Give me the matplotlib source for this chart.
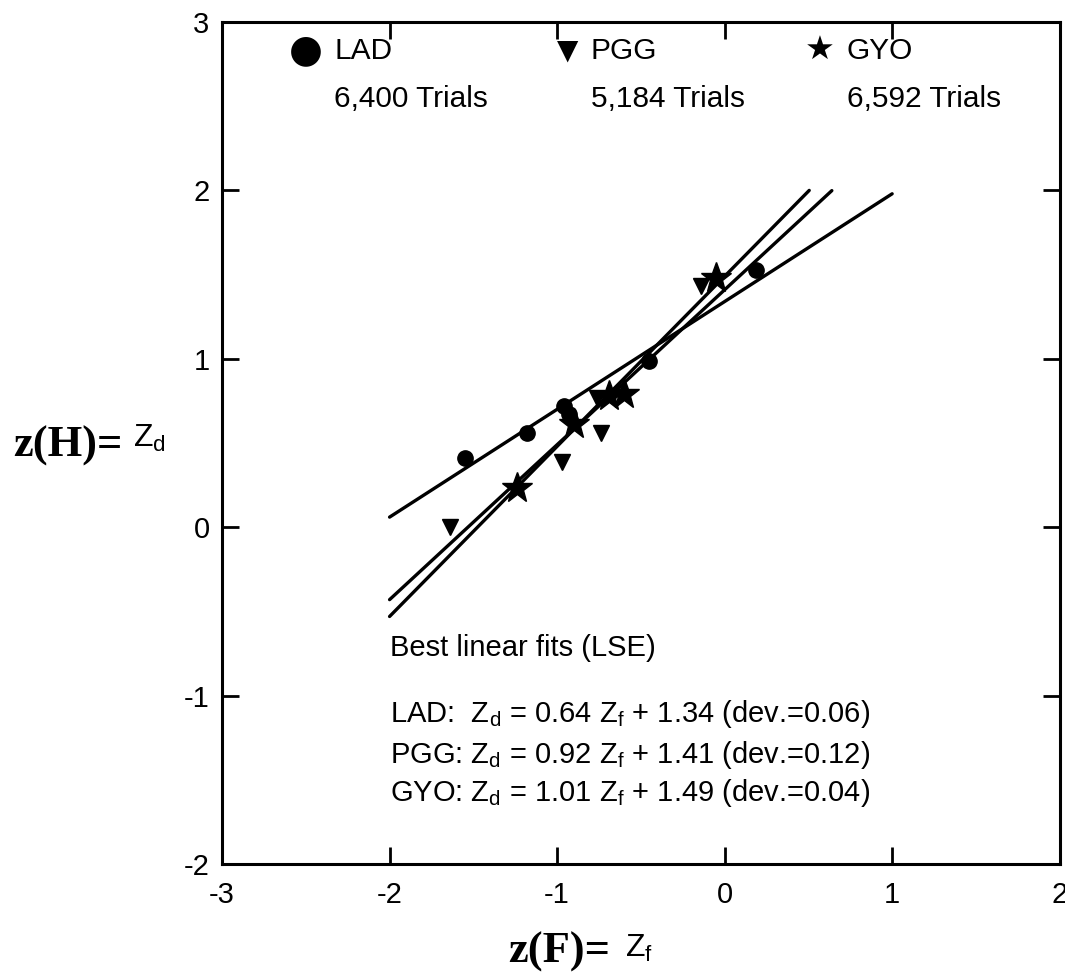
import numpy as np
import matplotlib
matplotlib.use("Agg")
import matplotlib.pyplot as plt

plt.rcParams['font.family'] = ['Liberation Sans', 'DejaVu Sans']
plt.rcParams['mathtext.fontset'] = 'custom'
plt.rcParams['mathtext.rm'] = 'Liberation Sans'
plt.rcParams['mathtext.it'] = 'Liberation Sans'
plt.rcParams['axes.unicode_minus'] = False

# data
lad_x = [-1.55, -1.18, -0.96, -0.93, -0.45, 0.19]
lad_y = [0.41, 0.56, 0.72, 0.67, 0.99, 1.53]
pgg_x = [-1.64, -0.97, -0.74, -0.76, -0.14]
pgg_y = [0.00, 0.39, 0.56, 0.77, 1.43]
gyo_x = [-1.24, -0.90, -0.69, -0.60, -0.05]
gyo_y = [0.23, 0.61, 0.78, 0.79, 1.48]

# best linear fits: slope, intercept, dev, x-range
names = ["LAD", "PGG", "GYO"]
slopes = [0.64, 0.92, 1.01]
intercepts = [1.34, 1.41, 1.49]
devs = [0.06, 0.12, 0.04]
fit_x0 = [-2.0, -2.0, -2.0]
fit_x1 = [1.0, 0.64, 0.505]
trials = ["6,400", "5,184", "6,592"]
symbols = ["\u25CF", "\u25BC", "\u2605"]

fig = plt.figure(figsize=(10.65, 9.74), dpi=100)
ax = fig.add_axes([0.2085, 0.1129, 0.7865, 0.8645])

for s, b, x0, x1 in zip(slopes, intercepts, fit_x0, fit_x1):
    xx = np.array([x0, x1])
    ax.plot(xx, s * xx + b, color='black', lw=2.4, solid_capstyle='round')

ax.plot(lad_x, lad_y, 'o', color='black', ms=11, ls='none')
ax.plot(pgg_x, pgg_y, 'v', color='black', ms=11, ls='none')
ax.plot(gyo_x, gyo_y, '*', color='black', ms=23, ls='none')

ax.set_xlim(-3, 2)
ax.set_ylim(-2, 3)
ax.set_xticks([-3, -2, -1, 0, 1, 2])
ax.set_yticks([-2, -1, 0, 1, 2, 3])
ax.tick_params(direction='in', length=12, width=2, labelsize=21,
               top=True, right=True)
ax.tick_params(axis='x', pad=12)
ax.tick_params(axis='y', pad=9)
for sp in ax.spines.values():
    sp.set_linewidth(2.2)

# legend drawn as text
leg_x = [-2.50, -0.94, 0.567]
txt_x = [-2.33, -0.80, 0.73]
sym_size = [28, 20, 24]
for nm, tr, sym, lx, tx, ss in zip(names, trials, symbols, leg_x, txt_x, sym_size):
    ax.text(lx, 2.83, sym, fontsize=ss, ha='center', va='center',
            family=['DejaVu Sans'])
    ax.text(tx, 2.83, nm, fontsize=21.5, ha='left', va='center')
    ax.text(tx, 2.54, tr + " Trials", fontsize=21.5, ha='left', va='center')

ax.text(-2.0, -0.72, "Best linear fits (LSE)", fontsize=21, ha='left', va='center')
row_y = [-1.11, -1.35, -1.58]
labels = ["LAD:  ", "PGG: ", "GYO: "]
for lab, s, b, d, ry in zip(labels, slopes, intercepts, devs, row_y):
    ax.text(-2.0, ry,
            lab + r"$\mathregular{Z_d}$" + f" = {s:.2f} " + r"$\mathregular{Z_f}$"
            + f" + {b:.2f} (dev.={d:.2f})",
            fontsize=21, ha='left', va='center')

# axis labels: bold serif part + sans symbol
fig.text(0.0122, 0.531, "z(H)=", fontsize=32, fontweight='bold',
         family='Liberation Serif', ha='left', va='baseline')
fig.text(0.1249, 0.541, r"$\mathregular{Z_d}$", fontsize=23, ha='left', va='baseline')
fig.text(0.477, 0.012, "z(F)=", fontsize=32, fontweight='bold',
         family='Liberation Serif', ha='left', va='baseline')
fig.text(0.587, 0.018, r"$\mathregular{Z_f}$", fontsize=23, ha='left', va='baseline')

fig.savefig("out.png", dpi=100)
